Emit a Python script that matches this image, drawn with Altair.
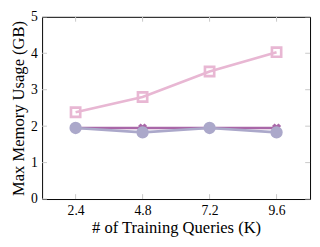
import altair as alt
import pandas as pd

queries = [2.4, 4.8, 7.2, 9.6]
series_a = [2.38, 2.80, 3.50, 4.03]   # pink squares
series_b = [1.95, 1.95, 1.95, 1.95]   # dark purple crosses
series_c = [1.95, 1.83, 1.95, 1.83]   # lavender circles
y_ticks = [0, 1, 2, 3, 4, 5]

names = ["A", "B", "C"]
colors = ["#e8b7d3", "#a967a8", "#aba8ca"]

df = pd.DataFrame({
    "q": queries * 3,
    "mem": series_a + series_b + series_c,
    "s": [names[0]] * 4 + [names[1]] * 4 + [names[2]] * 4,
})
df_x = pd.DataFrame({"q": queries})
df_y = pd.DataFrame({"v": y_ticks})

W, H = 275, 187
FONT = "Liberation Serif"

xs = alt.Scale(domain=[1.2, 10.8], nice=False, zero=False)
ys = alt.Scale(domain=[0, 5], nice=False)

xaxis = alt.Axis(values=queries, format=".1f", title="# of Training Queries (K)",
                 tickSize=0, labelPadding=5, domain=False, grid=False, labelOverlap=False,
                 labelFont=FONT, titleFont=FONT, labelFontSize=14, titleFontSize=17,
                 titleFontWeight="normal", labelColor="#000", titleColor="#000", titlePadding=2)
yaxis = alt.Axis(values=y_ticks, format="d", title="Max Memory Usage (GB)",
                 tickSize=0, labelPadding=5, domain=False, grid=False, labelOverlap=False,
                 labelFont=FONT, titleFont=FONT, labelFontSize=14, titleFontSize=17,
                 titleFontWeight="normal", labelColor="#000", titleColor="#000", titlePadding=3)

def line(name, color, shape, size, filled, sw, angle=0):
    d = df[df.s == name]
    base = alt.Chart(d).encode(
        x=alt.X("q:Q", scale=xs, axis=xaxis),
        y=alt.Y("mem:Q", scale=ys, axis=yaxis),
    )
    ln = base.mark_line(color=color, strokeWidth=2.7)
    pt = base.mark_point(shape=shape, size=size, filled=filled, color=color,
                         strokeWidth=sw, opacity=1, angle=angle)
    return ln + pt

ticks_bottom = alt.Chart(df_x).mark_rule(color="#c8c8c8", strokeWidth=1).encode(
    x=alt.X("q:Q", scale=xs, axis=xaxis), y=alt.value(H), y2=alt.value(H - 5))
ticks_top = alt.Chart(df_x).mark_rule(color="#c8c8c8", strokeWidth=1).encode(
    x=alt.X("q:Q", scale=xs, axis=xaxis), y=alt.value(0), y2=alt.value(5))
ticks_left = alt.Chart(df_y).mark_rule(color="#c8c8c8", strokeWidth=1).encode(
    y=alt.Y("v:Q", scale=ys, axis=yaxis), x=alt.value(0), x2=alt.value(5))
ticks_right = alt.Chart(df_y).mark_rule(color="#c8c8c8", strokeWidth=1).encode(
    y=alt.Y("v:Q", scale=ys, axis=yaxis), x=alt.value(W), x2=alt.value(W - 5))

chart = alt.layer(
    line("A", colors[0], "square", 90, False, 2.7),
    line("B", colors[1], "cross", 90, True, 0, 45),
    line("C", colors[2], "circle", 160, True, 0),
    ticks_bottom, ticks_top, ticks_left, ticks_right,
).properties(
    width=W, height=H,
    background="white",
    autosize=alt.AutoSizeParams(type="none"),
    padding={"left": 35, "top": 6, "right": 2, "bottom": 40},
).configure_view(stroke="#000000", strokeWidth=1)

chart.save("out.html", embed_options={"renderer": "svg", "actions": False})
